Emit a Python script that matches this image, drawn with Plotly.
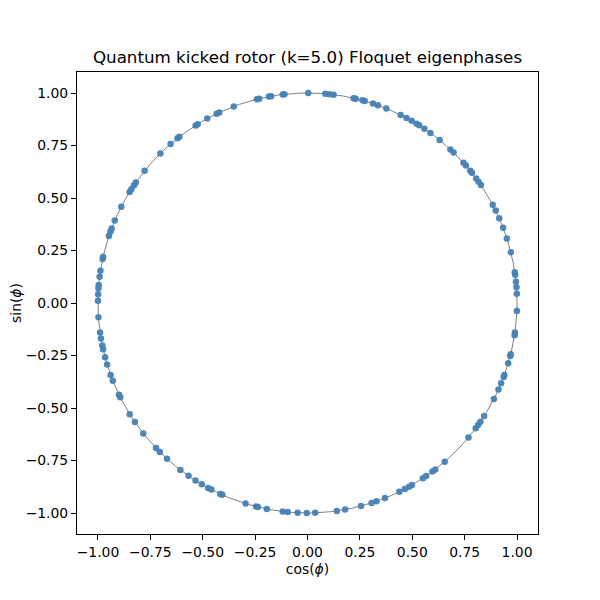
import numpy as np
import plotly.graph_objects as go

# Floquet eigenphases (degrees)
phases_q1 = [2.5, 4.3, 5.8, 7.7, 8.4, 14.0, 17.9, 21.0, 23.8, 26.1, 27.9, 34.15, 35.3, 36.4,
             38.3, 39.05, 40.9, 41.9, 45.8, 47.0, 50.9, 54.1, 56.1, 57.8, 58.65, 60.2, 61.8,
             63.6, 67.9, 70.35, 71.8, 74.15, 74.8, 76.7, 77.3, 82.85, 84.05, 85.15, 89.8]
phases_q2 = [96.3, 96.8, 100.0, 100.6, 103.3, 104.0, 110.6, 114.9, 115.7, 118.6, 121.6, 122.25,
             127.7, 128.35, 130.8, 134.6, 141.0, 145.0, 145.9, 147.2, 148.1, 152.7, 156.9,
             159.2, 160.15, 161.4, 167.3, 167.9, 171.2, 172.8, 175.1, 176.0, 177.6, 179.4]
phases_q3 = [-176.1, -171.9, -170.3, -168.3, -167.3, -165.0, -163.0, -159.95, -158.3, -154.1,
             -153.3, -148.05, -145.45, -141.6, -136.3, -134.8, -132.1, -127.35, -124.6, -122.3,
             -120.3, -118.3, -117.3, -114.6, -114.0, -107.2, -104.2, -103.7, -101.2, -96.8,
             -95.4, -92.7, -90.2]
phases_q4 = [-87.9, -81.95, -79.65, -75.2, -72.2, -70.8, -68.3, -64.0, -62.3, -61.0, -60.1,
             -56.6, -55.5, -53.4, -52.4, -49.1, -39.8, -36.6, -35.5, -34.4, -32.55, -27.2,
             -24.3, -22.5, -20.6, -20.05, -16.7, -14.6, -14.1, -8.8, -8.1, -2.2]

tick_vals = [-1.0, -0.75, -0.5, -0.25, 0.0, 0.25, 0.5, 0.75, 1.0]
tick_text = ["−1.00", "−0.75", "−0.50", "−0.25", "0.00", "0.25", "0.50", "0.75", "1.00"]

phases = np.deg2rad(np.array(phases_q1 + phases_q2 + phases_q3 + phases_q4))

# unit circle guide
t = np.linspace(0, 2 * np.pi, 500)

fig = go.Figure()
fig.add_trace(go.Scatter(x=np.cos(t), y=np.sin(t), mode="lines",
                         line=dict(color="#808080", width=1), hoverinfo="skip",
                         showlegend=False))
fig.add_trace(go.Scatter(x=np.cos(phases), y=np.sin(phases), mode="markers",
                         marker=dict(color="#4682B4", size=6.5, opacity=0.95,
                                     line=dict(width=0)),
                         showlegend=False))

font = "DejaVu Sans"
axis_common = dict(range=[-1.1, 1.1], tickvals=tick_vals, ticktext=tick_text,
                   showgrid=False, zeroline=False, showline=True, linecolor="black",
                   linewidth=1, mirror=True, ticks="outside", ticklen=5, tickwidth=1,
                   tickcolor="black", automargin=False,
                   tickfont=dict(family=font, size=13.9, color="black"))

W = H = 592  # page body adds an 8px offset
fig.update_layout(
    width=W, height=H,
    margin=dict(l=69, r=62, t=64, b=66),
    paper_bgcolor="white", plot_bgcolor="white",
    title=dict(text="Quantum kicked rotor (k=5.0) Floquet eigenphases",
               x=(69 + (W - 62)) / 2 / W, xanchor="center", y=1 - 49 / H, yanchor="middle",
               font=dict(family=font, size=16.7, color="black")),
    xaxis=dict(title=dict(text="cos(<i>ϕ</i>)", font=dict(family=font, size=13.9, color="black"),
                          standoff=5), **axis_common),
    yaxis=dict(title=dict(text="sin(<i>ϕ</i>)", font=dict(family=font, size=13.9, color="black"),
                          standoff=5), **axis_common),
)

fig.write_html("out.html")
